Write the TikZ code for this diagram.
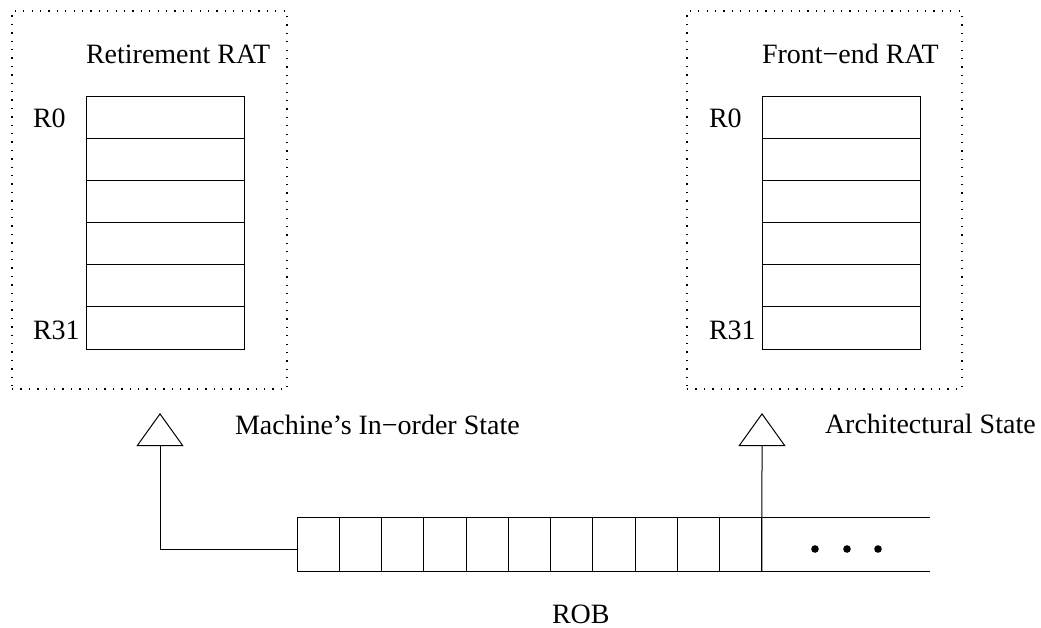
\documentclass[tikz,border=0pt]{standalone}
\usepackage{fontspec}
\setmainfont{Liberation Serif}
\usetikzlibrary{arrows.meta,calc}
\begin{document}
\begin{tikzpicture}[x=1pt,y=-1pt,line width=1pt,
  every node/.style={font=\fontsize{28}{34}\selectfont,inner sep=0pt,outer sep=0pt},
  regcell/.style={draw,minimum width=158pt,minimum height=42.17pt,anchor=north west},
  robcell/.style={draw,minimum width=42.27pt,minimum height=54pt,anchor=north west},
  ratframe/.style={draw,dash pattern=on 1.3pt off 7.1pt,line width=1.3pt,
    minimum width=275pt,minimum height=378pt,anchor=north west},
  txt/.style={anchor=base west},
  opentri/.style={-{Triangle[open,length=33pt,width=47pt]}}
]
\useasboundingbox (0,0) rectangle (1041,627);

% dotted enclosures of the two rename tables
\node[ratframe] (retbox) at (12,11) {};
\node[ratframe] (frontbox) at (687,11) {};

% retirement RAT
\node[txt] (rettitle) at (86,63) {Retirement RAT};
\foreach \i in {0,...,5}
  \node[regcell] (L\i) at (86,{96+\i*42.17}) {};
\node[txt] (lr0) at (33,127) {R0};
\node[txt] (lr31) at (33,339) {R31};

% front-end RAT
\node[txt] (fronttitle) at (762,63) {Front−end RAT};
\foreach \i in {0,...,5}
  \node[regcell] (F\i) at (762,{96+\i*42.17}) {};
\node[txt] (fr0) at (709,127) {R0};
\node[txt] (fr31) at (709,339) {R31};

% reorder buffer
\foreach \i in {1,...,11}
  \node[robcell] (c\i) at ({297+(\i-1)*42.27},517) {};
\coordinate (robT) at (930,517);
\coordinate (robB) at (930,571);
\draw (c11.north east) -- (robT);
\draw (c11.south east) -- (robB);
\foreach \x in {815,847,878}
  \fill (\x,549) circle[radius=3.8pt];
\node[txt,text depth=0pt] (rob) at (552,623) {ROB};

% state update paths
\coordinate (tipL) at (160,413);
\coordinate (tipR) at (762,413);
\draw[opentri] ($(c1.west)+(0,5)$) -| (tipL);
\draw[opentri] (c11.south east) -- (tipR);
\node[txt] (inorder) at (235,434) {Machine’s In−order State};
\node[txt] (arch) at (825,433) {Architectural State};
\end{tikzpicture}
\end{document}
